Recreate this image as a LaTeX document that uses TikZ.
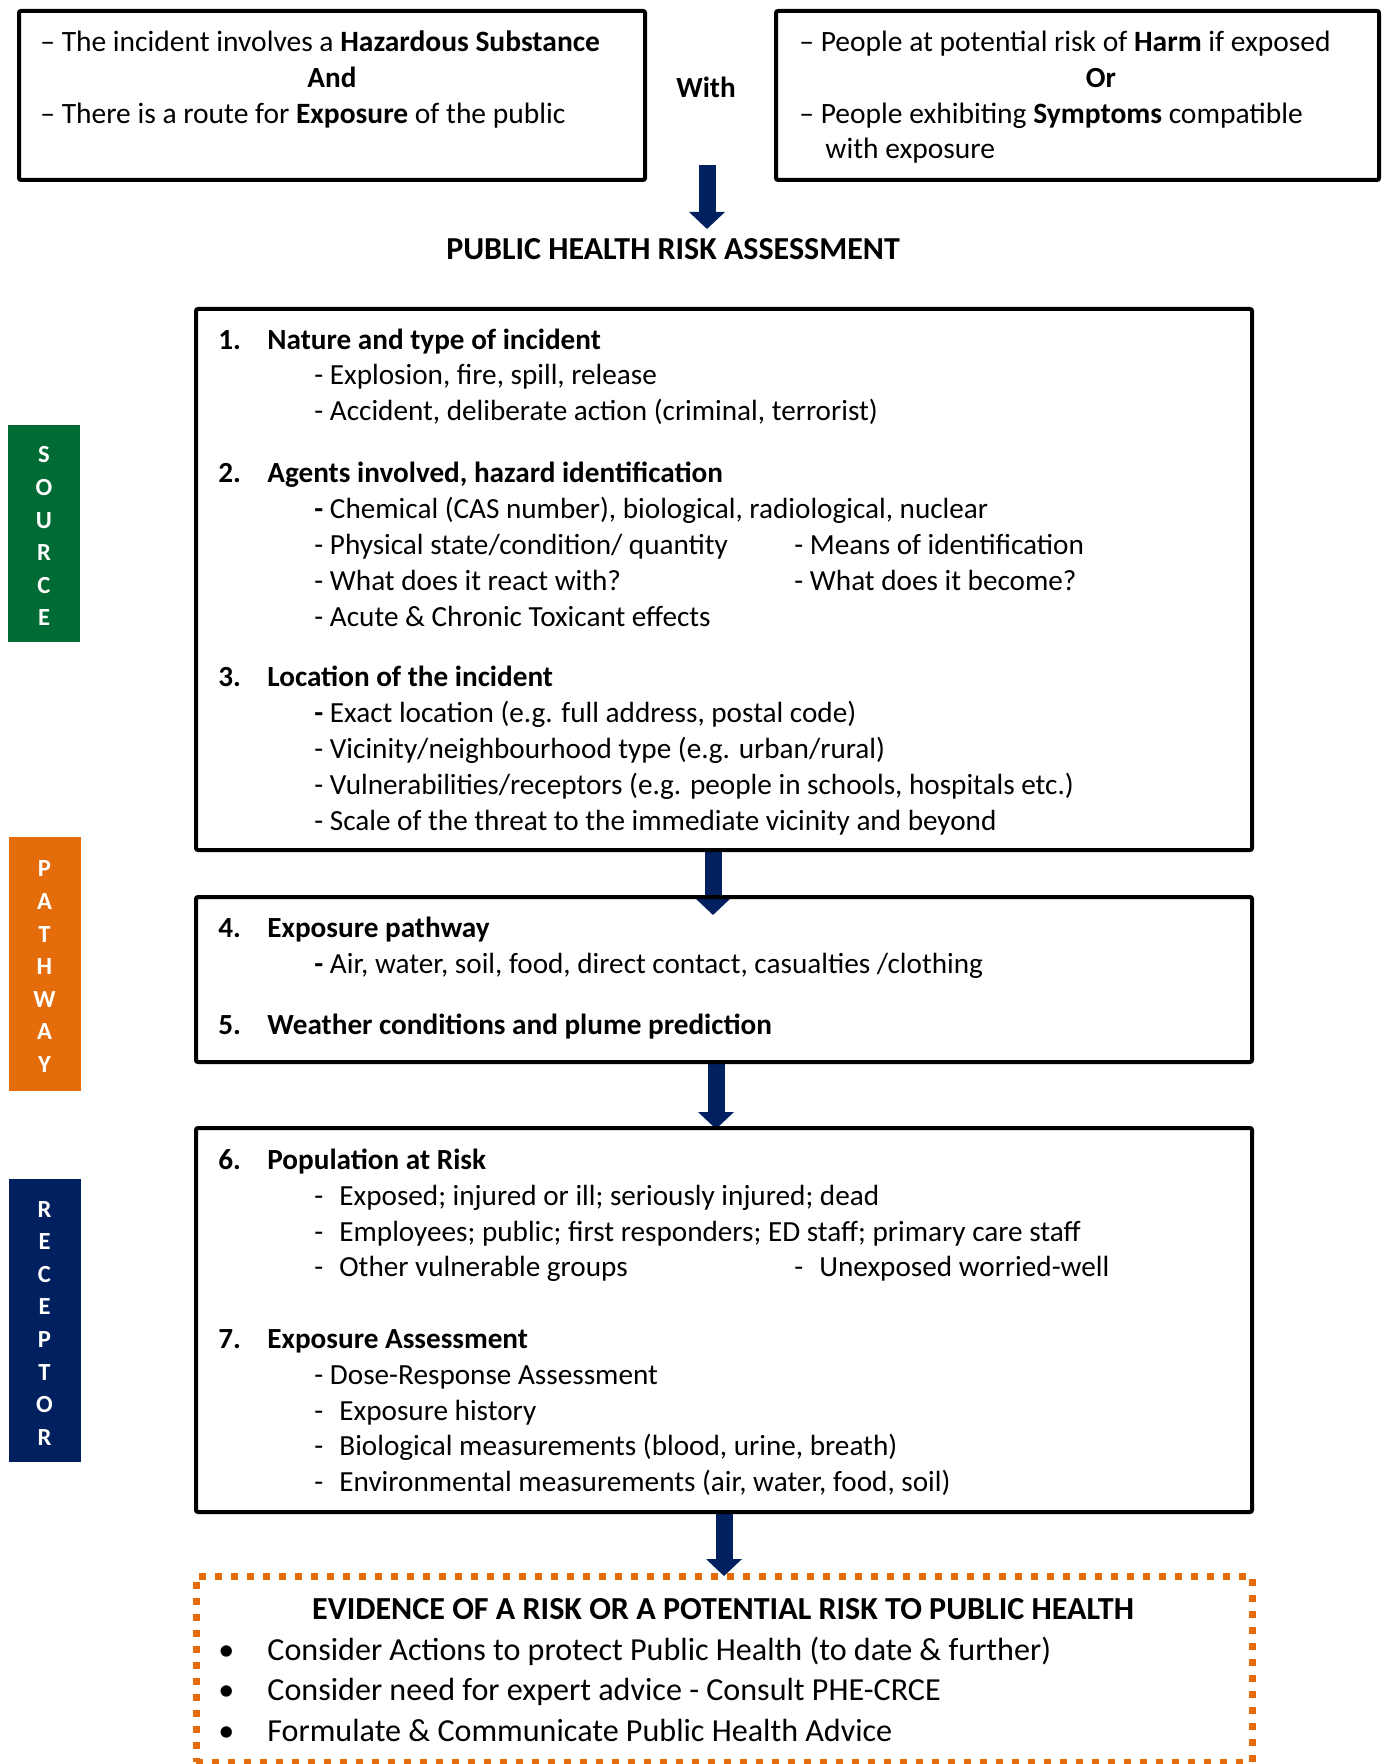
\documentclass[tikz,border=0pt]{standalone}
\usepackage{fontspec}
\setmainfont{Carlito}
\usetikzlibrary{arrows.meta,fit,positioning}
\definecolor{SourceGreen}{HTML}{006B35}
\definecolor{PathOrange}{HTML}{E46C0A}
\definecolor{ReceptorNavy}{HTML}{002060}
\tikzset{
  box/.style={draw=black,line width=2pt,rounded corners=1pt,inner sep=0pt},
  evidencebox/.style={draw=PathOrange,line width=3.5pt,dash pattern=on 3.5pt off 4.5pt,inner sep=0pt},
  sidebar/.style={inner sep=0pt,minimum width=36pt},
  sideletters/.style={inner sep=0pt,text=white,align=center,
    font=\fontsize{12.3}{16.3}\selectfont\bfseries},
  txt/.style={anchor=west,inner sep=0pt,text height=0.89em,text depth=0pt,
    font=\fontsize{14.6}{18}\selectfont},
  headtxt/.style={txt,font=\fontsize{14.6}{18}\selectfont\bfseries},
  toptxt/.style={txt,font=\fontsize{14.75}{18}\selectfont},
  bigtxt/.style={txt,font=\fontsize{16.05}{20}\selectfont},
  blockarrow/.style={ReceptorNavy,line width=8.5pt,-{Triangle[width=17.5pt,length=8.5pt]}},
}
\newcommand{\tabdash}{\makebox[12.5pt][l]{-}}
\begin{document}
\begin{tikzpicture}[x=0.5pt,y=-0.5pt]
  \useasboundingbox (0,0) rectangle (1386,1764);
  % trigger boxes
  \node[box,fit={(19,11) (645,180)}] (trigA) {};
  \node[box,fit={(776,11) (1379,180)}] (trigB) {};
  \node[toptxt] (tA1) at (40,43) {– The incident involves a \textbf{Hazardous Substance}};
  \node[headtxt,anchor=center] (tA2) at (332,79) {And};
  \node[toptxt] (tA3) at (40,115) {– There is a route for \textbf{Exposure} of the public};
  \node[headtxt,anchor=center] (with) at (706,89) {With};
  \node[toptxt] (tB1) at (799,43) {– People at potential risk of \textbf{Harm} if exposed};
  \node[headtxt,anchor=center] (tB2) at (1101,79) {Or};
  \node[toptxt] (tB3) at (799,115) {– People exhibiting \textbf{Symptoms} compatible};
  \node[toptxt] (tB4) at (825,150) {with exposure};
  \coordinate (topstart) at (707,165);
  \coordinate (topend) at (707,229);
  \draw[blockarrow] (topstart) -- (topend);
  \node[headtxt,anchor=center,font=\fontsize{16}{20}\selectfont\bfseries] (phra) at (673,251) {PUBLIC HEALTH RISK ASSESSMENT};

  % side bars
  \node[sidebar,fill=SourceGreen,minimum height=108.5pt] (source) at (44,533.5) {};
  \node[sideletters] (sourcetxt) at ([yshift=-1.4pt]source.center) {S\\O\\U\\R\\C\\E};
  \node[sidebar,fill=PathOrange,minimum height=127pt] (pathway) at (44.5,964) {};
  \node[sideletters] (pathwaytxt) at ([yshift=-1.4pt]pathway.center) {P\\A\\T\\H\\W\\A\\Y};
  \node[sidebar,fill=ReceptorNavy,minimum height=141.5pt] (receptor) at (44.5,1320.5) {};
  \node[sideletters] (receptortxt) at ([yshift=-1.4pt]receptor.center) {R\\E\\C\\E\\P\\T\\O\\R};

  % arrows between the boxes
  \draw[blockarrow] (713,850) -- (713,915);
  \draw[blockarrow] (716,1062) -- (716,1129);
  \draw[blockarrow] (724,1512) -- (724,1576);

  % box 1: source
  \node[box,fit={(196,309) (1252,850)}] (src) {};
  \node[headtxt] (n1) at (218,341) {1.};
  \node[headtxt] (h1) at (267,341) {Nature and type of incident};
  \node[txt] (s1a) at (314,376) {- Explosion, fire, spill, release};
  \node[txt] (s1b) at (314,412) {- Accident, deliberate action (criminal, terrorist)};
  \node[headtxt] (n2) at (218,474) {2.};
  \node[headtxt] (h2) at (267,474) {Agents involved, hazard identification};
  \node[txt] (s2a) at (314,510) {\textbf{-} Chemical (CAS number), biological, radiological, nuclear};
  \node[txt] (s2b) at (314,546) {- Physical state/condition/ quantity};
  \node[txt] (s2c) at (794,546) {- Means of identification};
  \node[txt] (s2d) at (314,582) {- What does it react with?};
  \node[txt] (s2e) at (794,582) {- What does it become?};
  \node[txt] (s2f) at (314,618) {- Acute \& Chronic Toxicant effects};
  \node[headtxt] (n3) at (218,678) {3.};
  \node[headtxt] (h3) at (267,678) {Location of the incident};
  \node[txt] (s3a) at (314,714) {\textbf{-} Exact location (e.g. full address, postal code)};
  \node[txt] (s3b) at (314,750) {- Vicinity/neighbourhood type (e.g. urban/rural)};
  \node[txt] (s3c) at (314,786) {- Vulnerabilities/receptors (e.g. people in schools, hospitals etc.)};
  \node[txt] (s3d) at (314,822) {- Scale of the threat to the immediate vicinity and beyond};

  % box 2: pathway
  \node[box,fit={(196,897) (1252,1062)}] (path) {};
  \node[headtxt] (n4) at (218,929) {4.};
  \node[headtxt] (h4) at (267,929) {Exposure pathway};
  \node[txt] (s4a) at (314,965) {\textbf{-} Air, water, soil, food, direct contact, casualties /clothing};
  \node[headtxt] (n5) at (218,1026) {5.};
  \node[headtxt] (h5) at (267,1026) {Weather conditions and plume prediction};

  % box 3: receptor
  \node[box,fit={(196,1128) (1252,1512)}] (recp) {};
  \node[headtxt] (n6) at (218,1161) {6.};
  \node[headtxt] (h6) at (267,1161) {Population at Risk};
  \node[txt] (s6a) at (314,1197) {\tabdash Exposed; injured or ill; seriously injured; dead};
  \node[txt] (s6b) at (314,1233) {\tabdash Employees; public; first responders; ED staff; primary care staff};
  \node[txt] (s6c) at (314,1268) {\tabdash Other vulnerable groups};
  \node[txt] (s6d) at (794,1268) {\tabdash Unexposed worried-well};
  \node[headtxt] (n7) at (218,1340) {7.};
  \node[headtxt] (h7) at (267,1340) {Exposure Assessment};
  \node[txt] (s7a) at (314,1376) {- Dose-Response Assessment};
  \node[txt] (s7b) at (314,1412) {\tabdash Exposure history};
  \node[txt] (s7c) at (314,1447) {\tabdash Biological measurements (blood, urine, breath)};
  \node[txt] (s7d) at (314,1483) {\tabdash Environmental measurements (air, water, food, soil)};

  % evidence box
  \node[evidencebox,fit={(196,1576) (1252,1762)}] (evid) {};
  \node[bigtxt,anchor=center,font=\fontsize{16.05}{20}\selectfont\bfseries] (evtitle) at (723,1611) {EVIDENCE OF A RISK OR A POTENTIAL RISK TO PUBLIC HEALTH};
  \node[bigtxt] (b1) at (218,1652) {•};
  \node[bigtxt] (e1) at (267,1652) {Consider Actions to protect Public Health (to date \& further)};
  \node[bigtxt] (b2) at (218,1692) {•};
  \node[bigtxt] (e2) at (267,1692) {Consider need for expert advice - Consult PHE-CRCE};
  \node[bigtxt] (b3) at (218,1733) {•};
  \node[bigtxt] (e3) at (267,1733) {Formulate \& Communicate Public Health Advice};
\end{tikzpicture}
\end{document}
